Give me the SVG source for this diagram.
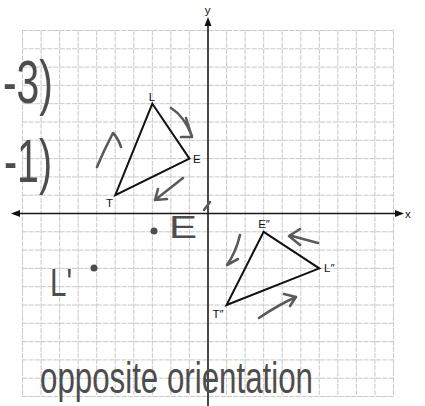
<svg xmlns="http://www.w3.org/2000/svg" width="425" height="406" viewBox="0 0 425 406">
<style>
.grid line{stroke:#c2c2c2;stroke-width:0.9;stroke-dasharray:5 1.2}
.axis{stroke:#1a1a1a;stroke-width:1.6;fill:none}
.tri{stroke:#111;stroke-width:2;fill:none;stroke-linejoin:miter}
.lbl{font-family:"Liberation Sans",Arial,sans-serif;font-size:11.5px;fill:#111}
.pen{stroke:#5a5a5a;stroke-width:2.6;fill:none;stroke-linecap:round;stroke-linejoin:round}
.hand{font-family:"Liberation Sans",Arial,sans-serif;fill:#4d4d4d}
</style>
<rect width="425" height="406" fill="#ffffff"/>
<g id="grid" class="grid">
<line x1="22.5" y1="30.5" x2="22.5" y2="396.5"/><line x1="41.05" y1="30.5" x2="41.05" y2="396.5"/><line x1="59.6" y1="30.5" x2="59.6" y2="396.5"/><line x1="78.15" y1="30.5" x2="78.15" y2="396.5"/><line x1="96.7" y1="30.5" x2="96.7" y2="396.5"/><line x1="115.25" y1="30.5" x2="115.25" y2="396.5"/><line x1="133.8" y1="30.5" x2="133.8" y2="396.5"/><line x1="152.35" y1="30.5" x2="152.35" y2="396.5"/><line x1="170.9" y1="30.5" x2="170.9" y2="396.5"/><line x1="189.45" y1="30.5" x2="189.45" y2="396.5"/>
<line x1="226.55" y1="30.5" x2="226.55" y2="396.5"/><line x1="245.1" y1="30.5" x2="245.1" y2="396.5"/><line x1="263.65" y1="30.5" x2="263.65" y2="396.5"/><line x1="282.2" y1="30.5" x2="282.2" y2="396.5"/><line x1="300.75" y1="30.5" x2="300.75" y2="396.5"/><line x1="319.3" y1="30.5" x2="319.3" y2="396.5"/><line x1="337.85" y1="30.5" x2="337.85" y2="396.5"/><line x1="356.4" y1="30.5" x2="356.4" y2="396.5"/><line x1="374.95" y1="30.5" x2="374.95" y2="396.5"/><line x1="393.5" y1="30.5" x2="393.5" y2="396.5"/>
<line x1="22.5" y1="30.5" x2="393.5" y2="30.5"/><line x1="22.5" y1="48.8" x2="393.5" y2="48.8"/><line x1="22.5" y1="67.1" x2="393.5" y2="67.1"/><line x1="22.5" y1="85.4" x2="393.5" y2="85.4"/><line x1="22.5" y1="103.7" x2="393.5" y2="103.7"/><line x1="22.5" y1="122" x2="393.5" y2="122"/><line x1="22.5" y1="140.3" x2="393.5" y2="140.3"/><line x1="22.5" y1="158.6" x2="393.5" y2="158.6"/><line x1="22.5" y1="176.9" x2="393.5" y2="176.9"/><line x1="22.5" y1="195.2" x2="393.5" y2="195.2"/>
<line x1="22.5" y1="231.8" x2="393.5" y2="231.8"/><line x1="22.5" y1="250.1" x2="393.5" y2="250.1"/><line x1="22.5" y1="268.4" x2="393.5" y2="268.4"/><line x1="22.5" y1="286.7" x2="393.5" y2="286.7"/><line x1="22.5" y1="305" x2="393.5" y2="305"/><line x1="22.5" y1="323.3" x2="393.5" y2="323.3"/><line x1="22.5" y1="341.6" x2="393.5" y2="341.6"/><line x1="22.5" y1="359.9" x2="393.5" y2="359.9"/><line x1="22.5" y1="378.2" x2="393.5" y2="378.2"/><line x1="22.5" y1="396.5" x2="393.5" y2="396.5"/>
</g>
<g id="axes">
<line class="axis" x1="16" y1="213.5" x2="398" y2="213.5"/>
<line class="axis" x1="208" y1="24" x2="208" y2="406"/>
<polygon points="404,213.5 395,210 395,217" fill="#111"/>
<polygon points="11,213.5 20,210 20,217" fill="#111"/>
<polygon points="208,17 204.5,26 211.5,26" fill="#111"/>
<text class="lbl" x="207.5" y="14" text-anchor="middle">y</text>
<text class="lbl" x="405" y="217.5">x</text>
</g>
<g id="triangle-LET">
<polygon class="tri" points="152.35,103.7 189.45,158.6 115.25,195.2"/>
<text class="lbl" x="152" y="100.5" text-anchor="middle">L</text>
<text class="lbl" x="193" y="163">E</text>
<text class="lbl" x="109.5" y="207" text-anchor="middle">T</text>
</g>
<g id="triangle-image">
<polygon class="tri" points="263.65,231.8 319.3,268.4 226.55,305"/>
<text class="lbl" x="264" y="228" text-anchor="middle">E″</text>
<text class="lbl" x="324" y="272">L″</text>
<text class="lbl" x="218" y="318" text-anchor="middle">T″</text>
</g>
<g id="pencil-arrows">
<path class="pen" d="M171,108 Q184,116 192,136 M186,118 Q189,128 192,137 L181,137"/>
<path class="pen" d="M97,167 Q104,150 113,133 Q118,138 121,147"/>
<path class="pen" d="M183,178 L155,200 M155,200 L158,189 M155,200 L167,199"/>
<path class="pen" d="M300,229 L289,236 L300,245 M292,236 L318,243"/>
<path class="pen" d="M240,235 Q236,252 227,265 L238,259"/>
<path class="pen" d="M259,318 Q278,305 296,297 L284,294 M296,297 L290,306"/>
<path class="pen" d="M204,210 L210,202"/>
</g>
<g id="handwriting">
<text class="hand" x="3" y="103" font-size="62" textLength="50" lengthAdjust="spacingAndGlyphs">-3)</text>
<text class="hand" x="4" y="182" font-size="62" textLength="48" lengthAdjust="spacingAndGlyphs">-1)</text>
<circle cx="154" cy="231" r="3.5" fill="#4d4d4d"/>
<text class="hand" x="169" y="238" font-size="32" textLength="28" lengthAdjust="spacingAndGlyphs">E</text>
<circle cx="94" cy="268" r="3.5" fill="#4d4d4d"/>
<text class="hand" x="50" y="296" font-size="38" textLength="22" lengthAdjust="spacingAndGlyphs">L'</text>
<text class="hand" x="40" y="393" font-size="44" textLength="273" lengthAdjust="spacingAndGlyphs">opposite orientation</text>
</g>
</svg>
